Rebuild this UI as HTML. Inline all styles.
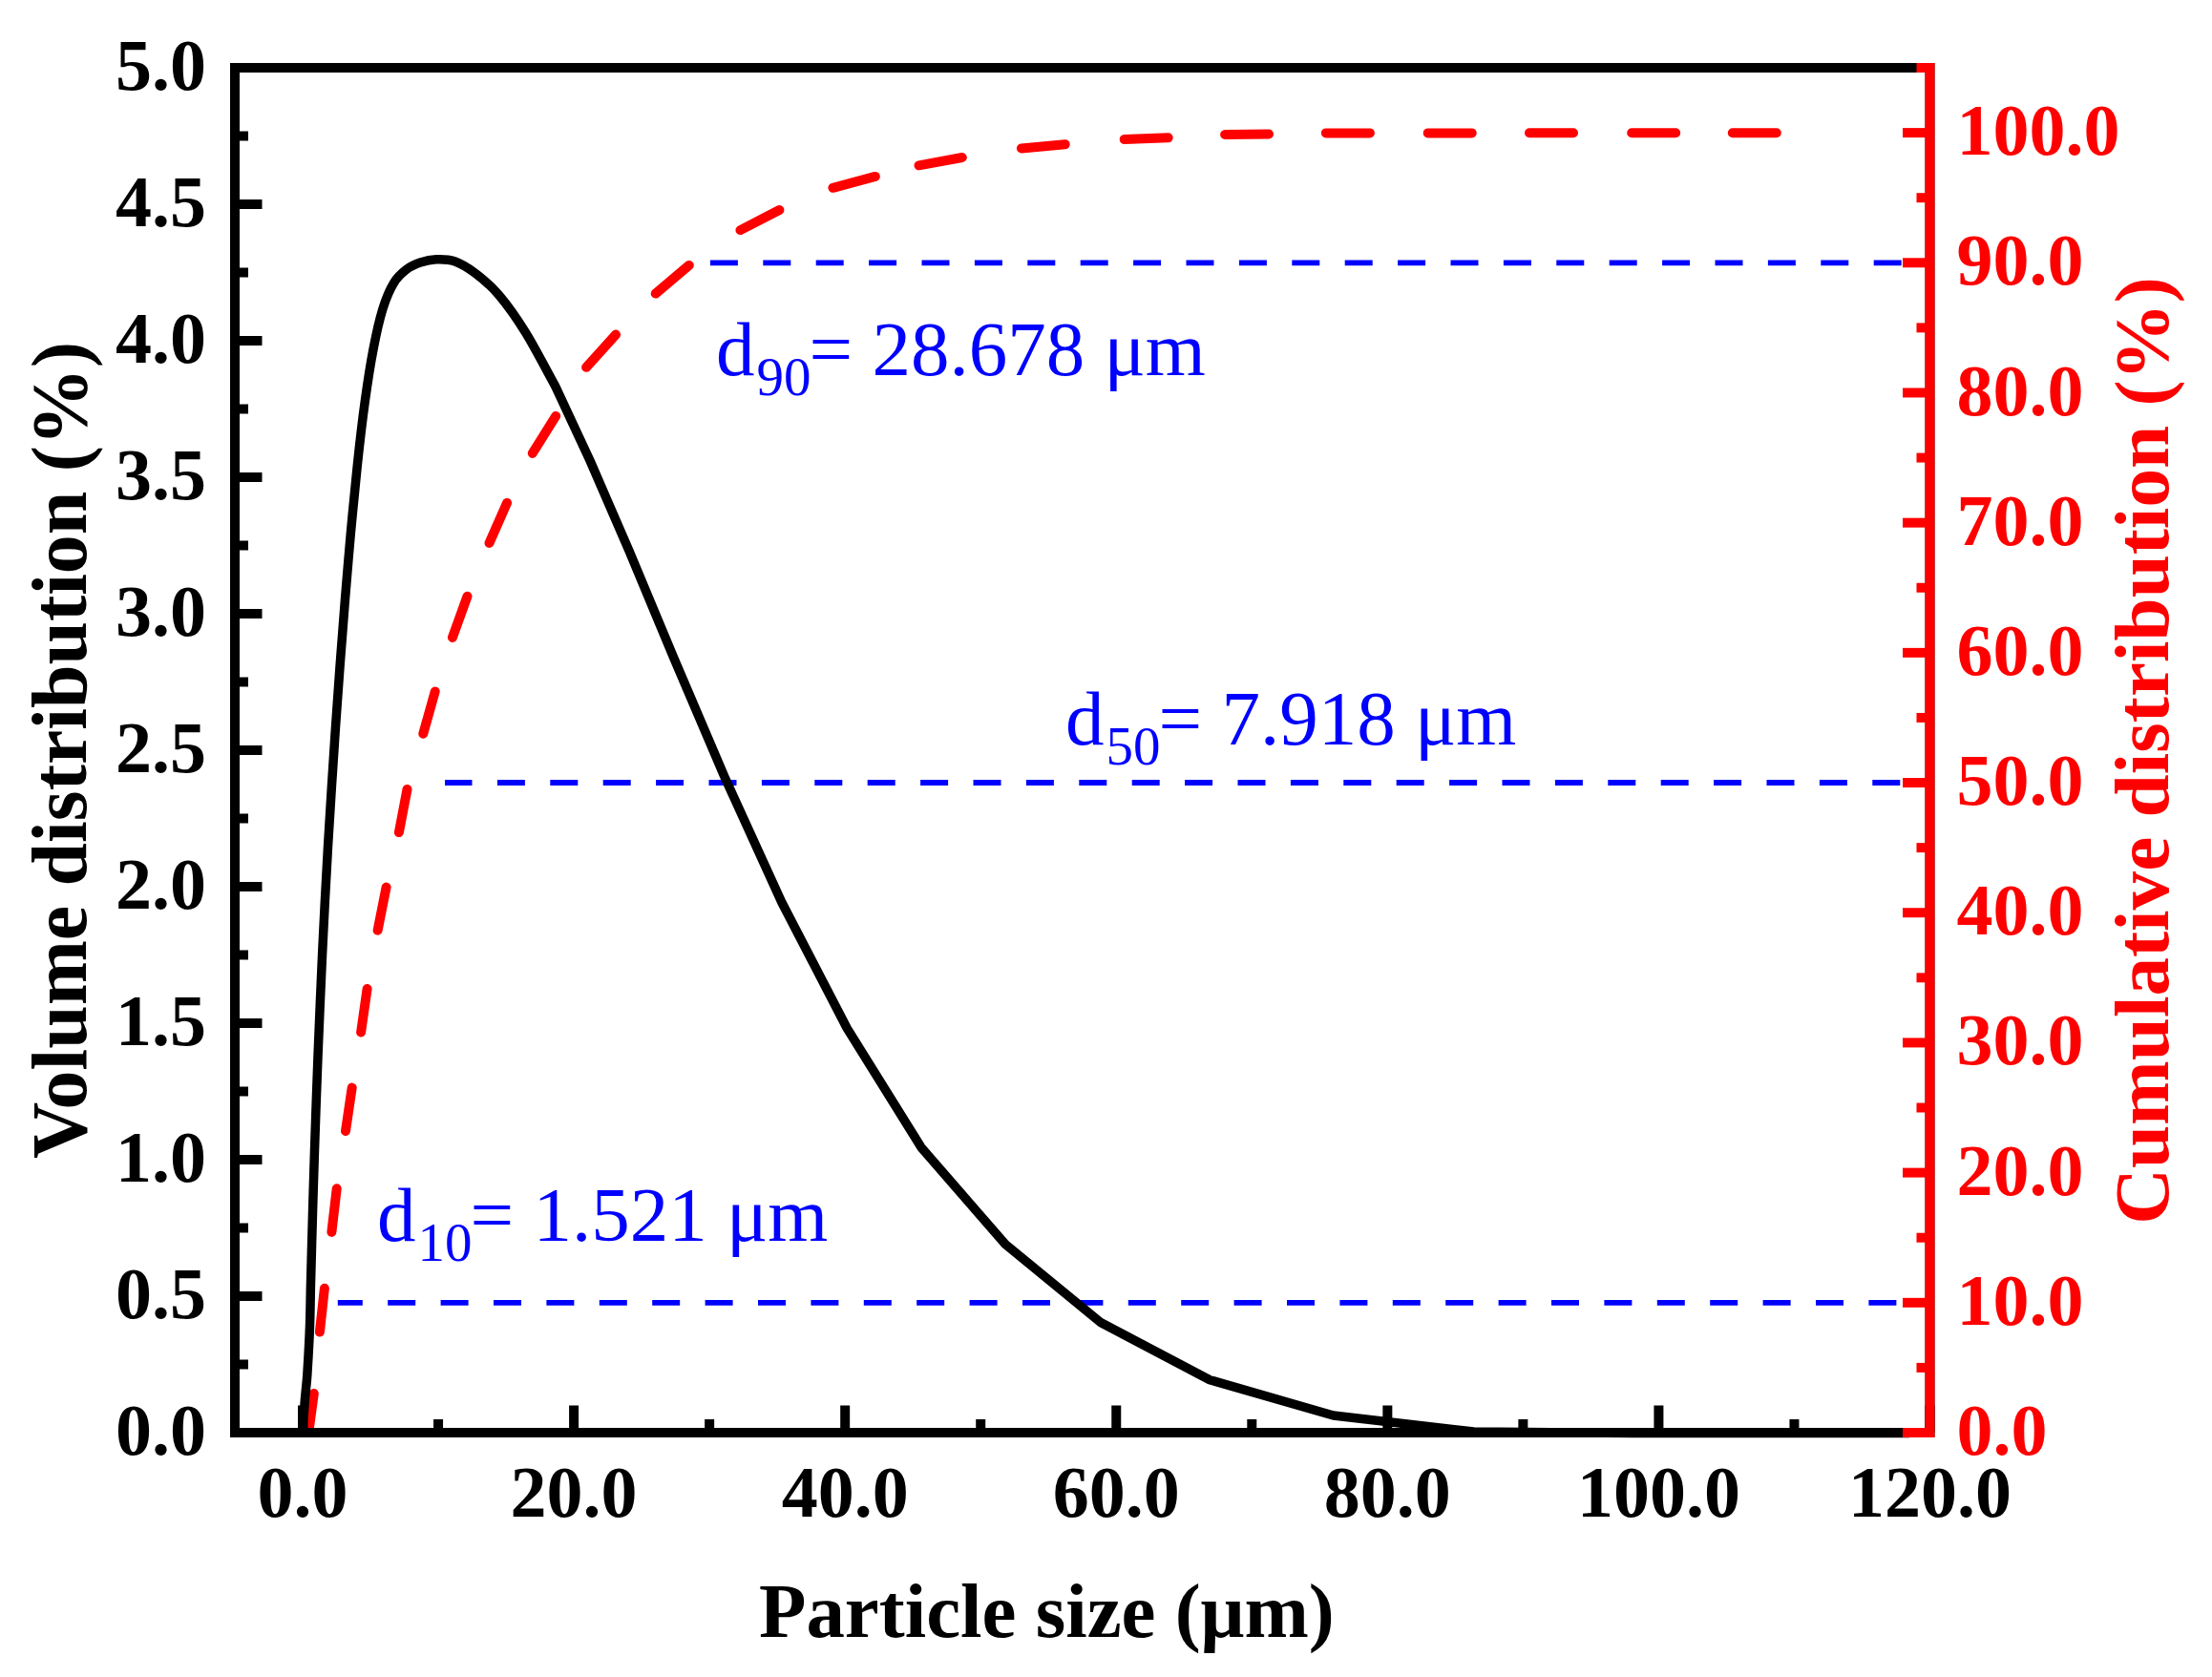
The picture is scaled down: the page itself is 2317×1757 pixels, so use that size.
<!DOCTYPE html>
<html><head><meta charset="utf-8"><title>Particle size distribution</title>
<style>html,body{margin:0;padding:0;background:#fff;}svg{display:block;}</style></head>
<body><svg width="2317" height="1757" viewBox="0 0 2317 1757">
<rect width="2317" height="1757" fill="#fff"/>
<g fill="none"><line x1="353.8" y1="1364.8" x2="1993.0" y2="1364.8" stroke="#0000ff" stroke-width="5.8" stroke-dasharray="29.0 26.4" stroke-dashoffset="3.0"/><line x1="466.0" y1="820.0" x2="1993.0" y2="820.0" stroke="#0000ff" stroke-width="5.8" stroke-dasharray="29.0 26.4" stroke-dashoffset="0.5"/><line x1="743.9" y1="275.3" x2="1993.0" y2="275.3" stroke="#0000ff" stroke-width="5.8" stroke-dasharray="29.0 26.4" stroke-dashoffset="0.0"/></g>
<path d="M323.2,1501.0 L328.8,1460.0 M334.9,1395.6 L339.9,1349.8 M347.4,1290.9 L352.7,1245.3 M362.0,1185.1 L368.7,1139.6 M378.1,1081.6 L384.6,1036.0 M395.6,974.7 L404.6,929.6 M417.9,872.1 L426.5,827.0 M443.3,768.7 L455.7,724.5 M473.9,668.0 L489.5,624.8 M512.5,568.9 L531.0,526.9 M557.8,474.9 L582.2,435.9 M614.1,384.8 L645.0,350.6 M686.7,307.6 L721.8,277.9 M775.5,241.1 L816.4,220.0 M872.4,196.8 L916.8,184.9 M962.5,173.3 L1007.8,165.0 M1069.9,155.4 L1115.7,151.2 M1177.7,146.0 L1223.7,144.3 M1283.1,141.0 L1329.0,140.6 M1388.9,139.4 L1434.9,139.4 M1495.7,139.4 L1541.7,139.4 M1602.0,139.2 L1648.0,139.2 M1709.2,139.2 L1755.2,139.2 M1814.8,139.2 L1860.8,139.2" fill="none" stroke="#ff0000" stroke-width="10.0" stroke-linecap="round"/>
<path d="M317.5,1503.0 L318.0,1485.0 L319.5,1465.0 L321.0,1450.0 C321.4,1445.4 321.4,1447.2 322.0,1437.5 C322.6,1427.8 323.9,1406.5 324.4,1391.6 C325.0,1376.7 325.1,1362.8 325.4,1348.1 C325.8,1333.3 326.2,1318.4 326.6,1303.1 C327.0,1287.9 327.4,1272.4 327.9,1256.6 C328.4,1240.8 328.9,1224.6 329.4,1208.2 C329.9,1191.8 330.5,1175.0 331.1,1158.1 C331.7,1141.2 332.3,1124.1 333.0,1106.7 C333.7,1089.4 334.4,1071.8 335.2,1053.9 C335.9,1036.1 336.8,1018.0 337.6,999.6 C338.5,981.2 339.4,962.5 340.4,943.5 C341.4,924.5 342.5,905.3 343.6,885.6 C344.8,866.0 346.0,846.1 347.3,825.6 C348.6,805.2 349.9,784.4 351.4,763.0 C352.9,741.7 354.4,719.8 356.1,697.4 C357.7,675.1 359.5,652.0 361.4,628.8 C363.3,605.5 365.3,581.6 367.4,558.1 C369.6,534.5 371.9,510.3 374.3,487.6 C376.7,465.0 379.3,442.2 382.1,421.9 C384.9,401.6 387.8,382.4 391.0,366.0 C394.1,349.5 397.4,334.9 401.0,323.3 C404.6,311.7 408.4,303.1 412.5,296.4 C416.5,289.6 420.8,286.1 425.5,282.5 C430.1,279.0 435.0,276.9 440.2,275.1 C445.5,273.3 451.1,272.0 457.0,271.8 C463.0,271.6 469.3,271.4 476.1,273.8 C482.9,276.2 490.0,280.4 497.8,286.3 C505.5,292.1 513.6,298.5 522.4,308.8 C531.1,319.1 540.4,331.9 550.3,348.0 C560.3,364.1 571.5,386.2 582.1,405.4 L618.2,483.0 L659.2,577.7 L705.8,689.3 L758.7,813.4 L818.9,945.5 L887.2,1077.2 L964.9,1202.1 L1053.1,1303.7 L1153.3,1385.8 L1267.2,1445.7 L1396.6,1483.0 L1543.6,1500.0 L1710.6,1501.5 L2000.0,1501.5" fill="none" stroke="#000" stroke-width="9.5" stroke-linejoin="round" stroke-linecap="butt"/>
<g><line x1="246.0" y1="1501.00" x2="274.5" y2="1501.00" stroke="#000" stroke-width="10.0"/><line x1="246.0" y1="1429.50" x2="260.0" y2="1429.50" stroke="#000" stroke-width="10.0"/><line x1="246.0" y1="1358.00" x2="274.5" y2="1358.00" stroke="#000" stroke-width="10.0"/><line x1="246.0" y1="1286.50" x2="260.0" y2="1286.50" stroke="#000" stroke-width="10.0"/><line x1="246.0" y1="1215.00" x2="274.5" y2="1215.00" stroke="#000" stroke-width="10.0"/><line x1="246.0" y1="1143.50" x2="260.0" y2="1143.50" stroke="#000" stroke-width="10.0"/><line x1="246.0" y1="1072.00" x2="274.5" y2="1072.00" stroke="#000" stroke-width="10.0"/><line x1="246.0" y1="1000.50" x2="260.0" y2="1000.50" stroke="#000" stroke-width="10.0"/><line x1="246.0" y1="929.00" x2="274.5" y2="929.00" stroke="#000" stroke-width="10.0"/><line x1="246.0" y1="857.50" x2="260.0" y2="857.50" stroke="#000" stroke-width="10.0"/><line x1="246.0" y1="786.00" x2="274.5" y2="786.00" stroke="#000" stroke-width="10.0"/><line x1="246.0" y1="714.50" x2="260.0" y2="714.50" stroke="#000" stroke-width="10.0"/><line x1="246.0" y1="643.00" x2="274.5" y2="643.00" stroke="#000" stroke-width="10.0"/><line x1="246.0" y1="571.50" x2="260.0" y2="571.50" stroke="#000" stroke-width="10.0"/><line x1="246.0" y1="500.00" x2="274.5" y2="500.00" stroke="#000" stroke-width="10.0"/><line x1="246.0" y1="428.50" x2="260.0" y2="428.50" stroke="#000" stroke-width="10.0"/><line x1="246.0" y1="357.00" x2="274.5" y2="357.00" stroke="#000" stroke-width="10.0"/><line x1="246.0" y1="285.50" x2="260.0" y2="285.50" stroke="#000" stroke-width="10.0"/><line x1="246.0" y1="214.00" x2="274.5" y2="214.00" stroke="#000" stroke-width="10.0"/><line x1="246.0" y1="142.50" x2="260.0" y2="142.50" stroke="#000" stroke-width="10.0"/><line x1="246.0" y1="71.00" x2="274.5" y2="71.00" stroke="#000" stroke-width="10.0"/><line x1="317.02" y1="1501.0" x2="317.02" y2="1472.5" stroke="#000" stroke-width="10.0"/><line x1="459.06" y1="1501.0" x2="459.06" y2="1487.0" stroke="#000" stroke-width="10.0"/><line x1="601.10" y1="1501.0" x2="601.10" y2="1472.5" stroke="#000" stroke-width="10.0"/><line x1="743.14" y1="1501.0" x2="743.14" y2="1487.0" stroke="#000" stroke-width="10.0"/><line x1="885.18" y1="1501.0" x2="885.18" y2="1472.5" stroke="#000" stroke-width="10.0"/><line x1="1027.22" y1="1501.0" x2="1027.22" y2="1487.0" stroke="#000" stroke-width="10.0"/><line x1="1169.26" y1="1501.0" x2="1169.26" y2="1472.5" stroke="#000" stroke-width="10.0"/><line x1="1311.30" y1="1501.0" x2="1311.30" y2="1487.0" stroke="#000" stroke-width="10.0"/><line x1="1453.34" y1="1501.0" x2="1453.34" y2="1472.5" stroke="#000" stroke-width="10.0"/><line x1="1595.38" y1="1501.0" x2="1595.38" y2="1487.0" stroke="#000" stroke-width="10.0"/><line x1="1737.42" y1="1501.0" x2="1737.42" y2="1472.5" stroke="#000" stroke-width="10.0"/><line x1="1879.46" y1="1501.0" x2="1879.46" y2="1487.0" stroke="#000" stroke-width="10.0"/><line x1="2021.50" y1="1501.0" x2="2021.50" y2="1472.5" stroke="#000" stroke-width="10.0"/></g>
<rect x="246.0" y="71.0" width="1775.5" height="1430.0" fill="none" stroke="#000" stroke-width="10.0" stroke-linejoin="miter"/>
<g><line x1="2021.5" y1="1501.00" x2="1993.0" y2="1501.00" stroke="#ff0000" stroke-width="10.0"/><line x1="2021.5" y1="1432.90" x2="2007.5" y2="1432.90" stroke="#ff0000" stroke-width="10.0"/><line x1="2021.5" y1="1364.81" x2="1993.0" y2="1364.81" stroke="#ff0000" stroke-width="10.0"/><line x1="2021.5" y1="1296.71" x2="2007.5" y2="1296.71" stroke="#ff0000" stroke-width="10.0"/><line x1="2021.5" y1="1228.62" x2="1993.0" y2="1228.62" stroke="#ff0000" stroke-width="10.0"/><line x1="2021.5" y1="1160.52" x2="2007.5" y2="1160.52" stroke="#ff0000" stroke-width="10.0"/><line x1="2021.5" y1="1092.43" x2="1993.0" y2="1092.43" stroke="#ff0000" stroke-width="10.0"/><line x1="2021.5" y1="1024.33" x2="2007.5" y2="1024.33" stroke="#ff0000" stroke-width="10.0"/><line x1="2021.5" y1="956.24" x2="1993.0" y2="956.24" stroke="#ff0000" stroke-width="10.0"/><line x1="2021.5" y1="888.14" x2="2007.5" y2="888.14" stroke="#ff0000" stroke-width="10.0"/><line x1="2021.5" y1="820.05" x2="1993.0" y2="820.05" stroke="#ff0000" stroke-width="10.0"/><line x1="2021.5" y1="751.95" x2="2007.5" y2="751.95" stroke="#ff0000" stroke-width="10.0"/><line x1="2021.5" y1="683.86" x2="1993.0" y2="683.86" stroke="#ff0000" stroke-width="10.0"/><line x1="2021.5" y1="615.76" x2="2007.5" y2="615.76" stroke="#ff0000" stroke-width="10.0"/><line x1="2021.5" y1="547.67" x2="1993.0" y2="547.67" stroke="#ff0000" stroke-width="10.0"/><line x1="2021.5" y1="479.57" x2="2007.5" y2="479.57" stroke="#ff0000" stroke-width="10.0"/><line x1="2021.5" y1="411.48" x2="1993.0" y2="411.48" stroke="#ff0000" stroke-width="10.0"/><line x1="2021.5" y1="343.38" x2="2007.5" y2="343.38" stroke="#ff0000" stroke-width="10.0"/><line x1="2021.5" y1="275.29" x2="1993.0" y2="275.29" stroke="#ff0000" stroke-width="10.0"/><line x1="2021.5" y1="207.19" x2="2007.5" y2="207.19" stroke="#ff0000" stroke-width="10.0"/><line x1="2021.5" y1="139.10" x2="1993.0" y2="139.10" stroke="#ff0000" stroke-width="10.0"/><line x1="2021.5" y1="71.00" x2="2007.5" y2="71.00" stroke="#ff0000" stroke-width="10.0"/></g>
<line x1="2021.5" y1="66.0" x2="2021.5" y2="1506.0" stroke="#ff0000" stroke-width="10.0"/>
<g font-family='"Liberation Serif", "Times New Roman", serif' font-weight="bold" font-size="76" fill="#000"><text x="216" y="1523.5" text-anchor="end">0.0</text><text x="216" y="1380.5" text-anchor="end">0.5</text><text x="216" y="1237.5" text-anchor="end">1.0</text><text x="216" y="1094.5" text-anchor="end">1.5</text><text x="216" y="951.5" text-anchor="end">2.0</text><text x="216" y="808.5" text-anchor="end">2.5</text><text x="216" y="665.5" text-anchor="end">3.0</text><text x="216" y="522.5" text-anchor="end">3.5</text><text x="216" y="379.5" text-anchor="end">4.0</text><text x="216" y="236.5" text-anchor="end">4.5</text><text x="216" y="93.5" text-anchor="end">5.0</text><text x="317.0" y="1588.5" text-anchor="middle">0.0</text><text x="601.1" y="1588.5" text-anchor="middle">20.0</text><text x="885.2" y="1588.5" text-anchor="middle">40.0</text><text x="1169.3" y="1588.5" text-anchor="middle">60.0</text><text x="1453.3" y="1588.5" text-anchor="middle">80.0</text><text x="1737.4" y="1588.5" text-anchor="middle">100.0</text><text x="2021.5" y="1588.5" text-anchor="middle">120.0</text></g>
<g font-family='"Liberation Serif", "Times New Roman", serif' font-weight="bold" font-size="76" fill="#ff0000"><text x="2049.5" y="1524.0">0.0</text><text x="2049.5" y="1387.8">10.0</text><text x="2049.5" y="1251.6">20.0</text><text x="2049.5" y="1115.4">30.0</text><text x="2049.5" y="979.2">40.0</text><text x="2049.5" y="843.0">50.0</text><text x="2049.5" y="706.9">60.0</text><text x="2049.5" y="570.7">70.0</text><text x="2049.5" y="434.5">80.0</text><text x="2049.5" y="298.3">90.0</text><text x="2049.5" y="162.1">100.0</text></g>
<g font-family='"Liberation Serif", "Times New Roman", serif' font-weight="bold" font-size="81.5">
<text x="795" y="1714.5" fill="#000" font-size="80.9">Particle size (&#956;m)</text>
<text transform="translate(90,786.0) rotate(-90)" text-anchor="middle" fill="#000" font-size="81.8">Volume distribution (%)</text>
<text transform="translate(2270.5,786.5) rotate(-90)" text-anchor="middle" fill="#ff0000" font-size="81.2">Cumulative distribution (%)</text>
</g>
<g font-family='"Liberation Serif", "Times New Roman", serif' font-size="81" fill="#0000ff">
<text x="750" y="392.5">d<tspan font-size="57" dx="2" dy="21.5">90</tspan><tspan dx="-2" dy="-21.5">= 28.678 &#956;m</tspan></text>
<text x="1116" y="779.5">d<tspan font-size="57" dx="2" dy="21.5">50</tspan><tspan dx="-2" dy="-21.5">= 7.918 &#956;m</tspan></text>
<text x="395" y="1299.5">d<tspan font-size="57" dx="2" dy="21.5">10</tspan><tspan dx="-2" dy="-21.5">= 1.521 &#956;m</tspan></text>
</g>
</svg></body></html>
